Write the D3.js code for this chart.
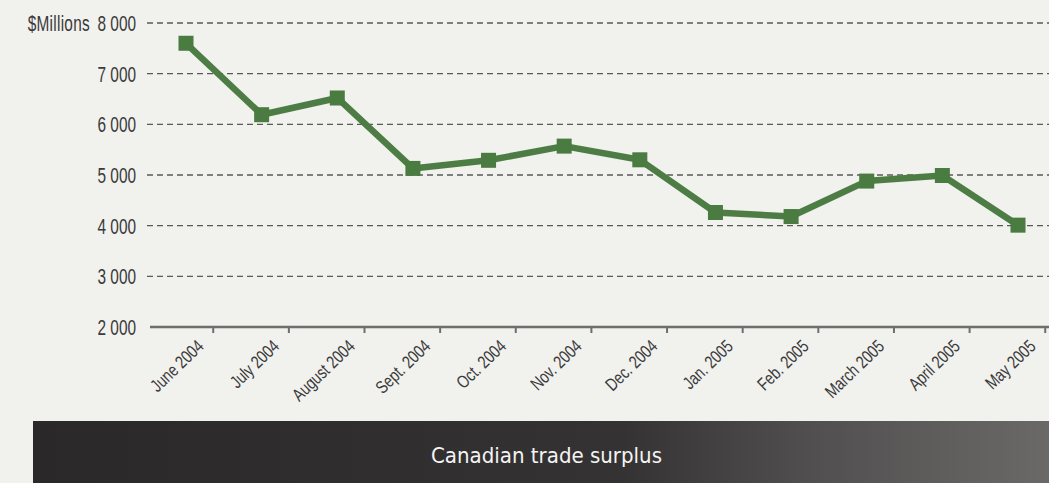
<!DOCTYPE html>
<html>
<head>
<meta charset="utf-8">
<script src="https://cdn.jsdelivr.net/npm/d3@7"></script>
<style>
  html, body { margin: 0; padding: 0; background: #f1f1ee; }
  svg { display: block; }
</style>
</head>
<body>
<svg id="chart" width="1049" height="483"></svg>
<script>
const months = ["June 2004", "July 2004", "August 2004", "Sept. 2004", "Oct. 2004", "Nov. 2004",
                "Dec. 2004", "Jan. 2005", "Feb. 2005", "March 2005", "April 2005", "May 2005"];
const surplus = [7600, 6190, 6520, 5130, 5290, 5570, 5300, 4260, 4180, 4880, 4990, 4010];
const yTicks = [2000, 3000, 4000, 5000, 6000, 7000, 8000];
const yUnit = "$Millions";
const title = "Canadian trade surplus";

const W = 1049, H = 483;
const svg = d3.select("#chart");

const defs = svg.append("defs");
const grad = defs.append("linearGradient").attr("id", "bar").attr("x1", "0%").attr("x2", "100%");
grad.append("stop").attr("offset", "0%").attr("stop-color", "#2b2829");
grad.append("stop").attr("offset", "58%").attr("stop-color", "#353233");
grad.append("stop").attr("offset", "76%").attr("stop-color", "#504e4e");
grad.append("stop").attr("offset", "100%").attr("stop-color", "#6a6968");

svg.append("rect").attr("width", W).attr("height", H).attr("fill", "#f1f1ee");

const x = d3.scalePoint().domain(months).range([186, 1018]);
const y = d3.scaleLinear().domain([2000, 8000]).range([327, 23]);
const step = x.step();

const font = "'Liberation Sans', Arimo, Arial, sans-serif";
const sx = 0.7;

// gridlines
svg.append("g").selectAll("line").data(yTicks.filter(d => d > 2000)).join("line")
  .attr("x1", 147).attr("x2", W)
  .attr("y1", d => y(d)).attr("y2", d => y(d))
  .attr("stroke", "#5a5a5a").attr("stroke-width", 1.3)
  .attr("stroke-dasharray", "6,4");

// y labels (condensed)
const fmt = d => d3.format(",")(d).replace(",", " ");
svg.append("g").selectAll("text").data(yTicks).join("text")
  .attr("transform", d => `translate(136,${y(d)}) scale(${sx},1)`)
  .attr("dy", "0.36em")
  .attr("text-anchor", "end")
  .attr("font-family", font).attr("font-size", 22).attr("fill", "#3a3a3a")
  .text(fmt);
svg.append("text")
  .attr("transform", `translate(90,${y(8000)}) scale(${sx},1)`)
  .attr("dy", "0.36em")
  .attr("text-anchor", "end")
  .attr("font-family", font).attr("font-size", 22).attr("fill", "#3a3a3a")
  .attr("letter-spacing", 0.4)
  .text(yUnit);

// x axis
svg.append("line")
  .attr("x1", 150).attr("x2", W).attr("y1", y(2000)).attr("y2", y(2000))
  .attr("stroke", "#6e6e6e").attr("stroke-width", 2.6);
svg.append("g").selectAll("line").data(months).join("line")
  .attr("x1", d => x(d) + step * 0.36).attr("x2", d => x(d) + step * 0.36)
  .attr("y1", y(2000)).attr("y2", y(2000) + 6)
  .attr("stroke", "#6e6e6e").attr("stroke-width", 2);

svg.append("g").selectAll("text").data(months).join("text")
  .attr("transform", d => `translate(${x(d) + step * 0.19},${y(2000) + 16}) rotate(-44) scale(0.78,1)`)
  .attr("text-anchor", "end").attr("dy", "0.35em")
  .attr("font-family", font).attr("font-size", 18).attr("fill", "#3a3a3a")
  .text(d => d);

// line
const line = d3.line().x((d, i) => x(months[i])).y(d => y(d));
svg.append("path").datum(surplus)
  .attr("d", line)
  .attr("fill", "none").attr("stroke", "#4d7d44").attr("stroke-width", 6.5)
  .attr("stroke-linejoin", "round");
svg.append("g").selectAll("rect").data(surplus).join("rect")
  .attr("x", (d, i) => x(months[i]) - 7.5).attr("y", d => y(d) - 7.5)
  .attr("width", 15).attr("height", 15)
  .attr("fill", "#4a7b41");

// title bar
svg.append("rect").attr("x", 33).attr("y", 421).attr("width", W - 33).attr("height", H - 421)
  .attr("fill", "url(#bar)");
svg.append("text").attr("x", 431).attr("y", 463)
  .attr("textLength", 231).attr("lengthAdjust", "spacingAndGlyphs")
  .attr("font-family", "'DejaVu Sans', 'Noto Sans', sans-serif")
  .attr("font-size", 21).attr("fill", "#f4f4f4")
  .text(title);
</script>
</body>
</html>
